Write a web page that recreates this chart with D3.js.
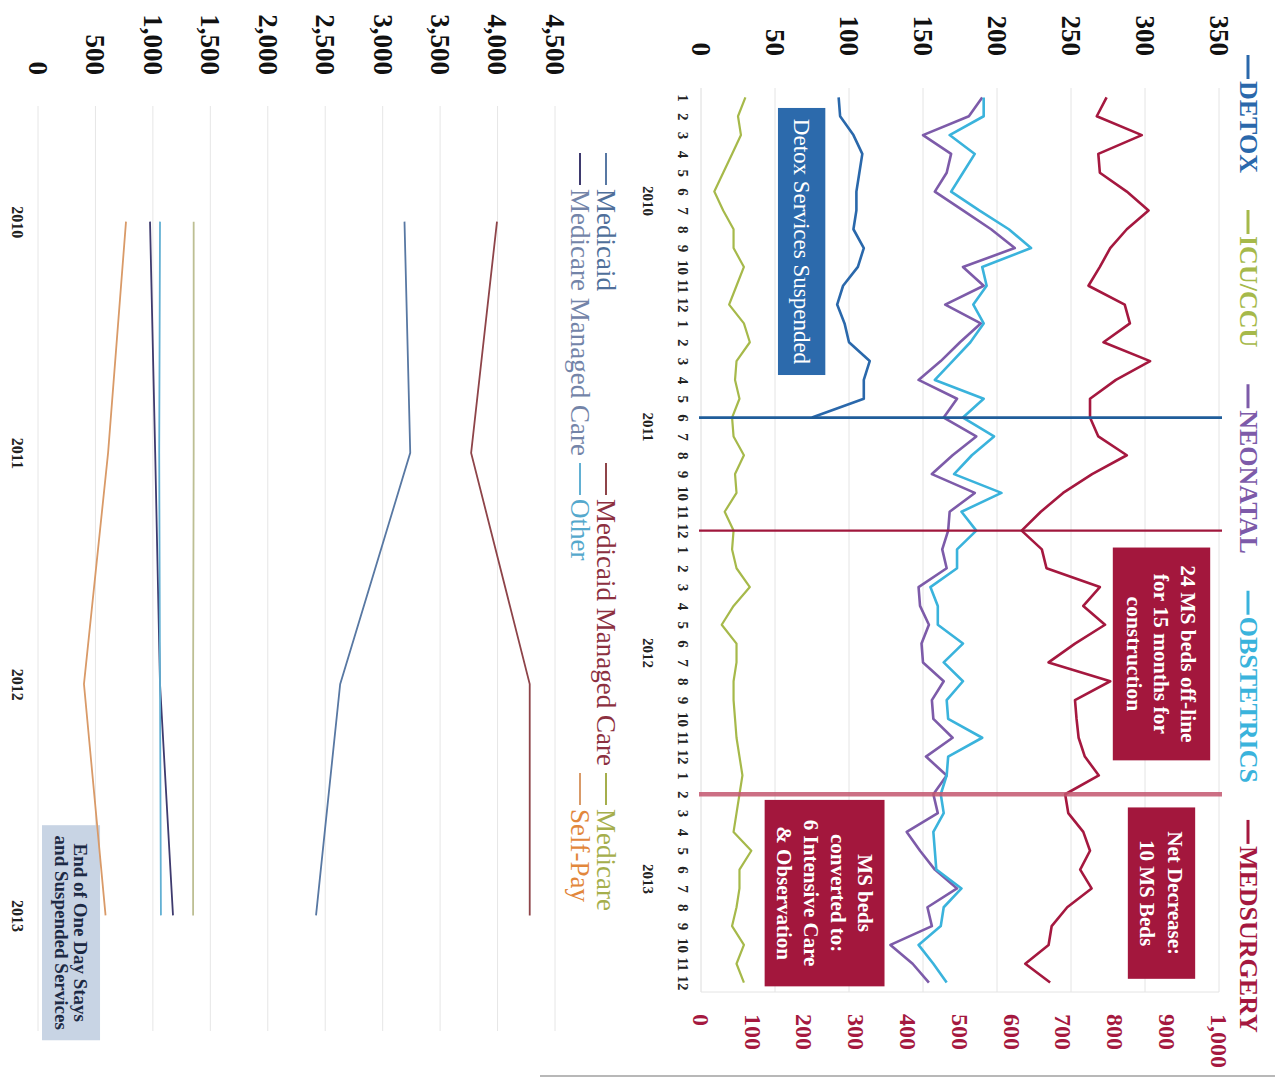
<!DOCTYPE html>
<html>
<head>
<meta charset="utf-8">
<script src="https://cdn.jsdelivr.net/npm/d3@7"></script>
<style>
  body { margin: 0; background: #fff; }
  svg { display: block; font-family: "Liberation Serif", "Times New Roman", "DejaVu Serif", serif; }
</style>
</head>
<body>
<svg id="chart" width="1275" height="1079"></svg>
<script>
// ---------- Monthly census by unit (left axis 0-350, Med/Surg on right axis 0-1,000) ----------
const monthNumbers = ["1","2","3","4","5","6","7","8","9","10","11","12"];
const years = ["2010","2011","2012","2013"];
const leftTicks = [0, 50, 100, 150, 200, 250, 300, 350];
const rightTicks = [0, 100, 200, 300, 400, 500, 600, 700, 800, 900, 1000];

const detox = [93, 94, 103, 109, 107, 105, 105, 103, 110, 106, 96, 92,
               97, 100, 114, 110, 110, 75];
const icuCcu = [30, 25, 27, 21, 15, 9, 15, 22, 22, 29, 24, 19,
                29, 33, 24, 23, 26, 21, 22, 29, 23, 24, 16, 22,
                21, 24, 33, 22, 14, 24, 24, 22, 22, 23, 24, 26,
                28, 26, 24, 22, 34, 26, 26, 24, 21, 29, 24, 29];
const neonatal = [190, 181, 150, 169, 166, 158, 177, 196, 212, 177, 191, 165,
                  189, 175, 162, 147, 173, 164, 186, 170, 156, 185, 168, 167,
                  163, 166, 147, 148, 154, 149, 150, 164, 156, 157, 170, 152,
                  166, 157, 160, 139, 148, 158, 173, 153, 156, 128, 143, 154];
const obstetrics = [191, 191, 168, 185, 177, 169, 188, 208, 223, 190, 193, 184,
                    191, 182, 170, 158, 191, 177, 198, 183, 171, 203, 176, 186,
                    173, 173, 155, 160, 160, 177, 164, 177, 166, 167, 190, 167,
                    166, 162, 164, 157, 158, 159, 176, 164, 162, 147, 157, 166];
const medSurgery = [783, 764, 851, 767, 770, 822, 864, 822, 790, 770, 748, 818,
                    828, 777, 867, 801, 751, 751, 767, 822, 755, 699, 656, 619,
                    658, 667, 770, 738, 780, 722, 671, 790, 722, 725, 729, 741,
                    768, 703, 709, 738, 751, 732, 754, 707, 677, 671, 626, 674];

// event months: detox suspended, MS beds off-line, MS beds converted
const eventMonths = ["2011-6", "2011-12", "2013-2"];

// ---------- Annual days by payer ----------
const payerYears = ["2010", "2011", "2012", "2013"];
const payerTicks = [0, 500, 1000, 1500, 2000, 2500, 3000, 3500, 4000, 4500];
const medicaid = [3190, 3240, 2630, 2420];
const medicaidManaged = [3995, 3770, 4280, 4280];
const medicare = [1355, 1355, 1350, 1350];
const medicareManaged = [975, 1020, 1062, 1175];
const otherPayer = [1062, 1055, 1062, 1070];
const selfPay = [766, 610, 400, 588];

// ---------- styles ----------
const topColors = {
  "DETOX": "#2a68ab", "ICU/CCU": "#a6b94a", "NEONATAL": "#7d5ba9",
  "OBSTETRICS": "#3ab3dc", "MEDSURGERY": "#a5183f"
};
const payerLineColors = {
  "Medicaid": "#5878a3", "Medicaid Managed Care": "#8e4449", "Medicare": "#bdbf93",
  "Medicare Managed Care": "#3e3a6e", "Other": "#62b0d3", "Self-Pay": "#d99a68"
};
const payerKeyColors = {
  "Medicaid": "#5878a3", "Medicaid Managed Care": "#8e4449", "Medicare": "#a5ae4c",
  "Medicare Managed Care": "#3e3a6e", "Other": "#62b0d3", "Self-Pay": "#d99a68"
};
const payerTextColors = {
  "Medicaid": "#4f6f9a", "Medicaid Managed Care": "#8c3040", "Medicare": "#a5ae4c",
  "Medicare Managed Care": "#7384a8", "Other": "#55a8cc", "Self-Pay": "#e2873c"
};

const svg = d3.select("#chart");

// faint page edge along the bottom
svg.append("line").attr("x1", 540).attr("x2", 1275).attr("y1", 1076).attr("y2", 1076)
  .attr("stroke", "#b8b8b8").attr("stroke-width", 2);

// ================= Top chart (drawn on its side) =================
const monthKeys = years.flatMap(y => monthNumbers.map(m => y + "-" + m));
const TW = 904, TH = 518;
const gT = svg.append("g").attr("transform", "translate(1219,88) rotate(90)");

const xT = d3.scalePoint().domain(monthKeys).range([0, TW]).padding(0.5);
const yL = d3.scaleLinear().domain([0, 350]).range([TH, 0]);
const yR = d3.scaleLinear().domain([0, 1000]).range([TH, 0]);
const uAt = i => xT(monthKeys[0]) + i * xT.step();

// gridlines
gT.append("g").selectAll("line").data(leftTicks.slice(1)).join("line")
  .attr("x1", 0).attr("x2", TW).attr("y1", d => yL(d)).attr("y2", d => yL(d))
  .attr("stroke", "#e4e4e4").attr("stroke-width", 1);
gT.append("line").attr("x1", 0).attr("x2", TW).attr("y1", TH).attr("y2", TH)
  .attr("stroke", "#dcdcdc");
gT.append("line").attr("x1", TW).attr("x2", TW).attr("y1", 0).attr("y2", TH)
  .attr("stroke", "#e4e4e4");

// left value axis
const axL = gT.append("g").call(d3.axisLeft(yL).tickValues(leftTicks).tickSize(0).tickPadding(32));
axL.select(".domain").remove();
axL.selectAll("text").attr("font-size", 27).attr("font-weight", "bold").attr("fill", "#111")
  .attr("font-family", "Liberation Serif, serif");

// right value axis (Med/Surg)
const axR = gT.append("g").attr("transform", `translate(${TW},0)`)
  .call(d3.axisRight(yR).tickValues(rightTicks).tickFormat(d3.format(",")).tickSize(0).tickPadding(22));
axR.select(".domain").remove();
axR.selectAll("text").attr("font-size", 24).attr("font-weight", "bold").attr("fill", "#a5183f")
  .attr("font-family", "Liberation Serif, serif");

// month axis
const axM = gT.append("g").attr("transform", `translate(0,${TH})`)
  .call(d3.axisBottom(xT).tickFormat(k => k.split("-")[1]).tickSize(0).tickPadding(12));
axM.select(".domain").remove();
axM.selectAll("text").attr("font-size", 15).attr("font-weight", "bold").attr("fill", "#222")
  .attr("font-family", "Liberation Serif, serif");

// year labels under the months
gT.append("g").selectAll("text").data(years).join("text")
  .attr("x", y => (xT(y + "-6") + xT(y + "-7")) / 2)
  .attr("y", TH + 53).attr("dy", "0.35em")
  .attr("text-anchor", "middle").attr("font-size", 15).attr("font-weight", "bold").attr("fill", "#222")
  .text(y => y);

// annotation boxes (positioned in month index / value units)
function noteBox(g, u0, u1, v0, v1, fill, lines, opts) {
  const x0 = uAt(u0), x1 = uAt(u1), yTop = v0, yBot = v1;
  g.append("rect").attr("x", x0).attr("y", yTop).attr("width", x1 - x0).attr("height", yBot - yTop)
    .attr("fill", fill);
  const cx = (x0 + x1) / 2, cy = (yTop + yBot) / 2;
  const t = g.append("text").attr("text-anchor", "middle").attr("fill", opts.color)
    .attr("font-size", opts.size).attr("font-weight", opts.weight);
  lines.forEach((ln, i) => {
    t.append("tspan").attr("x", cx)
      .attr("y", cy + (i - (lines.length - 1) / 2) * opts.lh).attr("dy", "0.35em").text(ln);
  });
}
noteBox(gT, 0.56, 14.74, yL(84), yL(52), "#2c6aac", ["Detox Services Suspended"],
  { color: "#fff", size: 23, weight: "normal", lh: 24 });
noteBox(gT, 23.9, 35.2, yR(983), yR(795), "#a3173d",
  ["24 MS beds off-line", "for 15 months for", "construction"],
  { color: "#fff", size: 21.5, weight: "bold", lh: 27 });
noteBox(gT, 37.7, 46.8, yR(954), yR(824), "#a3173d",
  ["Net Decrease:", "10 MS Beds"],
  { color: "#fff", size: 21, weight: "bold", lh: 28 });
noteBox(gT, 37.3, 47.2, yL(124), yL(43), "#a3173d",
  ["MS beds", "converted to:", "6 Intensive Care", "& Observation"],
  { color: "#fff", size: 21, weight: "bold", lh: 27 });

// series lines
const topSeries = [
  { name: "DETOX", values: detox, scale: yL },
  { name: "ICU/CCU", values: icuCcu, scale: yL },
  { name: "NEONATAL", values: neonatal, scale: yL },
  { name: "OBSTETRICS", values: obstetrics, scale: yL },
  { name: "MEDSURGERY", values: medSurgery, scale: yR }
];
const seriesWidth = { "ICU/CCU": 2.2 };
topSeries.forEach(s => {
  const line = d3.line().x((d, i) => xT(monthKeys[i])).y(d => s.scale(d));
  gT.append("path").datum(s.values).attr("d", line).attr("fill", "none")
    .attr("stroke", topColors[s.name]).attr("stroke-width", seriesWidth[s.name] || 2.6)
    .attr("stroke-linejoin", "round");
});

// event markers
const eventStyles = [
  { color: "#1f5d9a", width: 2.6, opacity: 1 },
  { color: "#a0173c", width: 2.4, opacity: 1 },
  { color: "#c4566f", width: 4.5, opacity: 0.85 }
];
eventMonths.forEach((m, i) => {
  gT.append("line").attr("x1", xT(m)).attr("x2", xT(m)).attr("y1", TH + 2).attr("y2", -3)
    .attr("stroke", eventStyles[i].color).attr("stroke-width", eventStyles[i].width)
    .attr("opacity", eventStyles[i].opacity);
});

// legend along the top
let lx = -33;
topSeries.forEach(s => {
  const g = gT.append("g");
  g.append("line").attr("x1", lx).attr("x2", lx + 24).attr("y1", -29).attr("y2", -29)
    .attr("stroke", topColors[s.name]).attr("stroke-width", 3);
  const t = g.append("text").attr("x", lx + 26).attr("y", -21)
    .attr("font-size", 26).attr("fill", topColors[s.name]).attr("font-weight", "bold").text(s.name);
  lx += 26 + t.node().getComputedTextLength() + 37;
});

// ================= Bottom chart (drawn on its side) =================
const BW = 925, BH = 517;
const gB = svg.append("g").attr("transform", "translate(555,106) rotate(90)");
const xB = d3.scalePoint().domain(payerYears).range([0, BW]).padding(0.5);
const yB = d3.scaleLinear().domain([0, 4500]).range([BH, 0]);

gB.append("g").selectAll("line").data(payerTicks.slice(1)).join("line")
  .attr("x1", 0).attr("x2", BW).attr("y1", d => yB(d)).attr("y2", d => yB(d))
  .attr("stroke", "#e6e6e6");
gB.append("line").attr("x1", 0).attr("x2", BW).attr("y1", BH).attr("y2", BH).attr("stroke", "#e6e6e6");

const axB = gB.append("g").call(d3.axisLeft(yB).tickValues(payerTicks).tickFormat(d3.format(","))
  .tickSize(0).tickPadding(31));
axB.select(".domain").remove();
axB.selectAll("text").attr("font-size", 27).attr("font-weight", "bold").attr("fill", "#111")
  .attr("font-family", "Liberation Serif, serif");

const axY = gB.append("g").attr("transform", `translate(0,${BH})`)
  .call(d3.axisBottom(xB).tickSize(0).tickPadding(15));
axY.select(".domain").remove();
axY.selectAll("text").attr("font-size", 16).attr("font-weight", "bold").attr("fill", "#222")
  .attr("font-family", "Liberation Serif, serif");

// end-of-service note
{
  const u0 = xB("2010") + 2.61 * xB.step(), u1 = xB("2010") + 3.54 * xB.step();
  const v0 = yB(540), v1 = yB(35);
  gB.append("rect").attr("x", u0).attr("y", v0).attr("width", u1 - u0).attr("height", v1 - v0)
    .attr("fill", "#c8d4e4");
  const t = gB.append("text").attr("text-anchor", "middle").attr("font-size", 19)
    .attr("font-weight", "bold").attr("fill", "#1d2a44");
  ["End of One Day Stays", "and Suspended Services"].forEach((ln, i) => {
    t.append("tspan").attr("x", (u0 + u1) / 2).attr("y", (v0 + v1) / 2 + (i - 0.5) * 19)
      .attr("dy", "0.35em").text(ln);
  });
}

const payerSeries = [
  { name: "Medicaid", values: medicaid },
  { name: "Medicaid Managed Care", values: medicaidManaged },
  { name: "Medicare", values: medicare },
  { name: "Medicare Managed Care", values: medicareManaged },
  { name: "Other", values: otherPayer },
  { name: "Self-Pay", values: selfPay }
];
payerSeries.forEach(s => {
  const line = d3.line().x((d, i) => xB(payerYears[i])).y(d => yB(d));
  gB.append("path").datum(s.values).attr("d", line).attr("fill", "none")
    .attr("stroke", payerLineColors[s.name]).attr("stroke-width", 1.8);
});

// legend: two rows of three
payerSeries.forEach((s, i) => {
  const col = i % 3, row = Math.floor(i / 3);
  const u = 47 + col * 310, v = row === 0 ? -51 : -25;
  gB.append("line").attr("x1", u).attr("x2", u + 32).attr("y1", v).attr("y2", v)
    .attr("stroke", payerKeyColors[s.name]).attr("stroke-width", 2);
  gB.append("text").attr("x", u + 36).attr("y", v).attr("dy", "0.35em")
    .attr("font-size", 27).attr("fill", payerTextColors[s.name]).text(s.name);
});
</script>
</body>
</html>
